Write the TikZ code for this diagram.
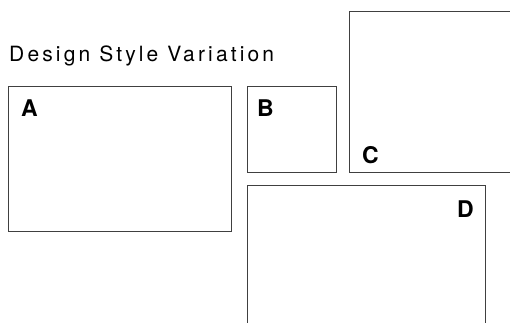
\documentclass[tikz,border=0pt]{standalone}
\usepackage{fontspec}
\setmainfont{TeX Gyre Heros}
\newfontfamily\titlefont[LetterSpace=15]{TeX Gyre Heros}
\begin{document}
\begin{tikzpicture}[x=1pt,y=-1pt,
  panel/.style={draw=black!75, line width=1pt},
  lbl/.style={inner sep=0pt, font=\fontsize{23}{23}\selectfont\bfseries},
  ttl/.style={inner sep=0pt, anchor=base west, font=\fontsize{21}{21}\selectfont\titlefont}]
\useasboundingbox (0,0) rectangle (510,322);
\clip (0,0) rectangle (510,322);
\node[ttl] (title) at (9,61) {Design Style Variation};
\draw[panel] (8,86) rectangle (231,231);
\draw[panel] (247,86) rectangle (336,172);
\draw[panel] (349,11) rectangle (530,172);
\draw[panel] (247,185) rectangle (485,340);
\node[lbl, anchor=base west] (A) at (21,116) {A};
\node[lbl, anchor=base west] (B) at (257,116) {B};
\node[lbl, anchor=base west] (C) at (362,163) {C};
\node[lbl, anchor=base east] (D) at (474,217) {D};
\end{tikzpicture}
\end{document}
